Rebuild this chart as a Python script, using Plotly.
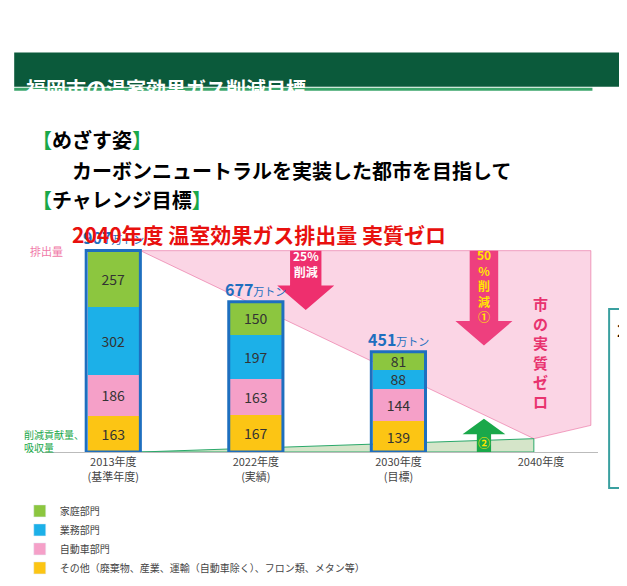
import plotly.graph_objects as go

years = ["2013年度<br>(基準年度)", "2022年度<br>(実績)", "2030年度<br>(目標)", "2040年度"]
katei = [257, 150, 81, None]
gyomu = [302, 197, 88, None]
jidosha = [186, 163, 144, None]
sonota = [163, 167, 139, None]
totals = ["907", "677", "451"]
names = ["家庭部門", "業務部門", "自動車部門", "その他（廃棄物、産業、運輸（自動車除く）、フロン類、メタン等）"]
colors = ["#8cc63f", "#1cb0e8", "#f5a0c8", "#fcc514"]

x = [0, 1, 2, 3]
fig = go.Figure()

# pink reduction area and green absorption wedge (background)
fig.add_shape(type="path", layer="below", fillcolor="rgba(245,150,190,0.4)",
              line=dict(color="rgba(230,80,140,0.5)", width=1),
              path="M 0.19,907 L 3.35,907 L 3.35,120 L 2.95,60 Z")
fig.add_shape(type="path", layer="below", fillcolor="rgba(150,190,120,0.4)",
              line=dict(color="#2aa86a", width=1),
              path="M 0.19,0 L 2.95,60 L 2.95,0 Z")

stack = [sonota, jidosha, gyomu, katei]
stack_names = [names[3], names[2], names[1], names[0]]
stack_colors = [colors[3], colors[2], colors[1], colors[0]]
for vals, nm, col in zip(stack, stack_names, stack_colors):
    fig.add_trace(go.Bar(x=x, y=vals, name=nm, marker=dict(color=col, line=dict(width=0)),
                         width=0.36, text=vals, textposition="inside", insidetextanchor="middle",
                         textangle=0, constraintext="none",
                         textfont=dict(size=14, color="#333", family="Noto Sans CJK JP"),
                         showlegend=False))
for nm, col in zip(names, colors):
    fig.add_trace(go.Bar(x=[None], y=[None], name=nm, marker_color=col))

sums = [sum(v) for v in zip(katei[:3], gyomu[:3], jidosha[:3], sonota[:3])]
for i, s in enumerate(sums):
    fig.add_shape(type="rect", x0=i - 0.19, x1=i + 0.19, y0=0, y1=s, line=dict(color="#1e6fbf", width=3))
    fig.add_annotation(x=i, y=s, text="<b>" + totals[i] + "</b><span style='font-size:11px'>万トン</span>",
                       showarrow=False, yshift=13, font=dict(size=16, color="#1e6fbf"))

def down_arrow(xc, y0, y1, hw, col):
    fig.add_shape(type="path", fillcolor=col, line=dict(width=0),
                  path=f"M {xc-hw},{y0} L {xc+hw},{y0} L {xc+hw},{y1+110} L {xc+0.2},{y1+110} "
                       f"L {xc},{y1} L {xc-0.2},{y1+110} L {xc-hw},{y1+110} Z")

down_arrow(1.35, 907, 640, 0.11, "#ee2f6e")
down_arrow(2.6, 907, 480, 0.1, "#ee3f7e")
fig.add_shape(type="path", fillcolor="#1aa84a", line=dict(width=0),
              path="M 2.55,0 L 2.65,0 L 2.65,80 L 2.75,80 L 2.6,150 L 2.45,80 L 2.55,80 Z")
fig.add_annotation(x=1.35, y=850, text="<b>25%<br>削減</b>", showarrow=False, font=dict(size=12, color="white"))
fig.add_annotation(x=2.6, y=750, text="<b>50<br>%<br>削<br>減<br>①</b>", showarrow=False,
                   font=dict(size=12, color="#ffe600"), yanchor="middle")
fig.add_annotation(x=2.6, y=45, text="<b>②</b>", showarrow=False, font=dict(size=12, color="#ffe600"))
fig.add_annotation(x=3.0, y=450, text="<b>市<br>の<br>実<br>質<br>ゼ<br>ロ</b>", showarrow=False,
                   font=dict(size=15, color="#e8336f"))
fig.add_annotation(x=0, xref="paper", xanchor="left", y=907, text="排出量", showarrow=False,
                   xshift=-14, font=dict(size=11, color="#f07aa8"))
fig.add_annotation(x=0, xref="paper", xanchor="left", y=50, text="削減貢献量、<br>吸収量", showarrow=False,
                   xshift=-20, align="left", font=dict(size=10, color="#1aa84a"))

# header
fig.add_shape(type="rect", xref="paper", yref="paper", x0=-0.05, x1=1.1, y0=1.645, y1=1.8,
              fillcolor="#0b5a3b", line=dict(width=0))
fig.add_shape(type="line", xref="paper", yref="paper", x0=-0.05, x1=0.99, y0=1.634, y1=1.634,
              line=dict(color="#3aa56a", width=3))
hdr = [("<b>福岡市の温室効果ガス削減目標</b>", 1.71, 20, "white", -18),
       ("<b><span style='color:#1aa84a'>【</span>めざす姿<span style='color:#1aa84a'>】</span></b>", 1.482, 20, "black", -12),
       ("<b>カーボンニュートラルを実装した都市を目指して</b>", 1.342, 20, "black", 28),
       ("<b><span style='color:#1aa84a'>【</span>チャレンジ目標<span style='color:#1aa84a'>】</span></b>", 1.211, 20, "black", -12),
       ("<b>2040年度 温室効果ガス排出量 実質ゼロ</b>", 1.06, 21, "#e8100e", 28)]
for t, yy, sz, c, xs in hdr:
    fig.add_annotation(x=0, y=yy, xref="paper", yref="paper", xanchor="left", text=t, showarrow=False,
                       xshift=xs, font=dict(size=sz, color=c))

fig.add_shape(type="rect", xref="paper", yref="paper", x0=1.02, x1=1.2, y0=-0.162, y1=0.644,
              line=dict(color="#3aa0a0", width=2))
fig.add_annotation(x=1.03, y=0.62, xref="paper", yref="paper", xanchor="left", yanchor="top",
                   text="<b>2</b>", showarrow=False, font=dict(size=18, color="black"))

fig.update_layout(
    width=627, height=586, barmode="stack", plot_bgcolor="white", paper_bgcolor="white",
    margin=dict(l=20, r=37, t=222, b=80),
    font=dict(family="Noto Sans CJK JP", size=11, color="#444"),
    xaxis=dict(tickvals=x, ticktext=years, range=[-0.5, 3.4], showgrid=False, showline=True,
               linecolor="#bbb", tickfont=dict(size=11)),
    yaxis=dict(range=[0, 1000], visible=False),
    legend=dict(orientation="h", x=-0.04, y=-0.2, xanchor="left", yanchor="top",
                font=dict(size=10), itemwidth=30, traceorder="normal", entrywidthmode="pixels"),
)
fig.write_html("out.html")
